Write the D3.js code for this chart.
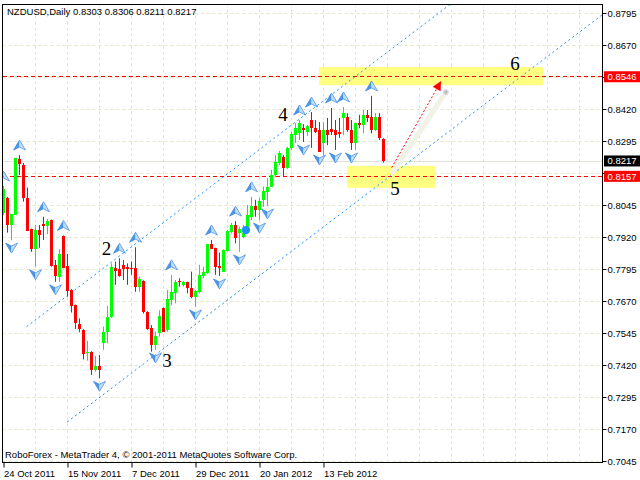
<!DOCTYPE html>
<html><head><meta charset="utf-8">
<script src="https://cdn.jsdelivr.net/npm/d3@7"></script>
<style>
body{margin:0;background:#fff;}
svg{display:block;font-family:"Liberation Sans",Arial,sans-serif;}
</style>
</head><body>
<svg id="c" width="640" height="480"></svg>
<script>
// ---------------- data ----------------
const symbolTitle = "NZDUSD,Daily";
const lastQuote = [0.8303, 0.8306, 0.8211, 0.8217];
const footerText = "RoboForex - MetaTrader 4, \u00a9 2001-2011 MetaQuotes Software Corp.";

const opens = [0.8014,0.8074,0.7967,0.8006,0.8225,0.8201,0.8071,0.7951,0.7873,0.7947,
0.7971,0.7963,0.7986,0.7811,0.7765,0.7924,0.7808,0.7713,0.7654,0.7582,
0.7557,0.7466,0.7472,0.7400,0.7416,0.7505,0.7550,0.7606,0.7798,0.7794,
0.7811,0.7802,0.7798,0.7798,0.7724,0.7749,0.7628,0.7563,0.7498,0.7546,
0.7643,0.7557,0.7674,0.7700,0.7749,0.7733,0.7743,0.7722,0.7684,0.7706,
0.7768,0.7778,0.7891,0.7876,0.7807,0.7785,0.7866,0.7938,0.7967,0.7934,
0.7921,0.7947,0.7999,0.8041,0.8025,0.8065,0.8097,0.8117,0.8162,0.8209,
0.8234,0.8190,0.8268,0.8318,0.8326,0.8346,0.8330,0.8377,0.8346,0.8338,
0.8286,0.8338,0.8341,0.8338,0.8331,0.8385,0.8390,0.8338,0.8286,0.8364,
0.8358,0.8397,0.8388,0.8338,0.8390,0.8303];
const highs = [0.8119,0.8077,0.8010,0.8229,0.8240,0.8209,0.8113,0.7953,0.7967,0.7967,
0.7999,0.7990,0.7988,0.7830,0.7872,0.7926,0.7854,0.7716,0.7656,0.7602,
0.7560,0.7514,0.7474,0.7455,0.7459,0.7570,0.7651,0.7817,0.7824,0.7837,
0.7830,0.7817,0.7824,0.7880,0.7765,0.7751,0.7630,0.7576,0.7550,0.7634,
0.7645,0.7713,0.7772,0.7752,0.7759,0.7748,0.7745,0.7785,0.7713,0.7811,
0.7804,0.7893,0.7908,0.7878,0.7859,0.7872,0.7947,0.7975,0.7982,0.7960,
0.7967,0.8045,0.8077,0.8065,0.8072,0.8117,0.8150,0.8182,0.8240,0.8256,
0.8240,0.8272,0.8331,0.8365,0.8377,0.8361,0.8358,0.8408,0.8377,0.8369,
0.8369,0.8385,0.8424,0.8377,0.8385,0.8428,0.8403,0.8377,0.8367,0.8397,
0.8416,0.8416,0.8471,0.8404,0.8404,0.8306];
const lows = [0.8006,0.7937,0.7908,0.8006,0.8162,0.8058,0.7945,0.7862,0.7804,0.7878,
0.7908,0.7931,0.7804,0.7745,0.7745,0.7798,0.7687,0.7625,0.7561,0.7548,
0.7442,0.7437,0.7381,0.7394,0.7368,0.7479,0.7505,0.7604,0.7733,0.7765,
0.7752,0.7733,0.7772,0.7706,0.7706,0.7621,0.7557,0.7472,0.7479,0.7531,
0.7550,0.7550,0.7654,0.7661,0.7726,0.7726,0.7700,0.7681,0.7647,0.7700,
0.7759,0.7776,0.7873,0.7772,0.7768,0.7783,0.7862,0.7934,0.7895,0.7862,
0.7915,0.7941,0.7986,0.7999,0.7986,0.8038,0.8041,0.8115,0.8154,0.8201,
0.8156,0.8186,0.8260,0.8287,0.8299,0.8291,0.8314,0.8268,0.8326,0.8252,
0.8240,0.8279,0.8318,0.8260,0.8307,0.8318,0.8331,0.8260,0.8260,0.8345,
0.8325,0.8369,0.8325,0.8334,0.8299,0.8211];
const closes = [0.8107,0.7967,0.8010,0.8227,0.8205,0.8074,0.7945,0.7873,0.7947,0.7928,
0.7963,0.7982,0.7808,0.7768,0.7854,0.7798,0.7710,0.7652,0.7585,0.7561,
0.7463,0.7472,0.7400,0.7416,0.7400,0.7550,0.7606,0.7802,0.7788,0.7768,
0.7794,0.7794,0.7794,0.7724,0.7755,0.7628,0.7560,0.7498,0.7533,0.7611,
0.7550,0.7677,0.7706,0.7745,0.7745,0.7743,0.7722,0.7684,0.7710,0.7772,
0.7785,0.7891,0.7873,0.7802,0.7798,0.7869,0.7943,0.7967,0.7915,0.7950,
0.7937,0.8006,0.8041,0.8025,0.8062,0.8101,0.8117,0.8162,0.8214,0.8248,
0.8188,0.8268,0.8322,0.8346,0.8365,0.8338,0.8354,0.8346,0.8331,0.8253,
0.8338,0.8318,0.8331,0.8318,0.8321,0.8404,0.8338,0.8286,0.8364,0.8358,
0.8397,0.8384,0.8338,0.8390,0.8306,0.8217];

const dateTickIdx = [0, 16, 32, 48, 64, 80];
const dateTickLabels = ["24 Oct 2011","15 Nov 2011","7 Dec 2011","29 Dec 2011","20 Jan 2012","13 Feb 2012"];
const gridBarStep = 8;
const priceTicks = [0.8795,0.8670,0.8545,0.8420,0.8295,0.8170,0.8045,0.7920,0.7795,0.7670,0.7545,0.7420,0.7295,0.7170,0.7045];

const fractalUpIdx = [0, 4, 10, 15, 29, 33, 42, 52, 58, 62, 74, 77, 82, 85, 92];
const fractalDownIdx = [2, 8, 13, 24, 38, 48, 54, 59, 64, 66, 75, 79, 83, 87];

const levelPrices = [0.8546, 0.8157];
const bidPrice = 0.8217;
const channelUpper = [[5.8, 0.7570], [110, 0.8809]];
const channelLower = [[15.9, 0.7197], [150, 0.8792]];
const zoneBars = [[78.9, 134.9], [85.9, 107.9]];
const zonePrices = [[0.8584, 0.8513], [0.8198, 0.8112]];
const arrowLine = [[97.05, 0.8191], [109.4, 0.8529]];
const arrowBand = [[97.4, 0.8174], [110.6, 0.8486]];
const waveText = ["2", "3", "4", "5", "6"];
const waveBar = [25.75, 40.9, 69.9, 97.9, 127.9];
const wavePrice = [0.7877, 0.7438, 0.8400, 0.8111, 0.8599];
const markerDot = [60.6, 0.7947];

// ---------------- drawing ----------------
const W = 640, H = 480;
const P = {left: 2.5, top: 4.5, right: 602.5, bottom: 462.5};
const x = d3.scaleLinear().domain([0, 1]).range([3.5, 7.5]);
const y = d3.scaleLinear().domain([0.7045, 0.8795]).range([461, 13]);
const BULL = "#00ff00", BEAR = "#ff0000";
const GRID = "#e4e4c8";
const FONT = "'Liberation Sans', Arial, sans-serif";

const svg = d3.select("#c");
svg.append("rect").attr("width", W).attr("height", H).attr("fill", "#fff");
svg.append("defs").append("clipPath").attr("id", "clip")
  .append("rect").attr("x", P.left + 0.5).attr("y", P.top + 0.5)
  .attr("width", P.right - P.left - 1).attr("height", P.bottom - P.top - 1);
const g = svg.append("g").attr("clip-path", "url(#clip)");

// grid (horizontal via axis generator)
const hGrid = g.append("g").attr("transform", `translate(${P.left},0)`)
  .call(d3.axisLeft(y).tickValues(priceTicks).tickSize(-(P.right - P.left)).tickFormat(""));
hGrid.select(".domain").remove();
hGrid.selectAll("line").attr("stroke", GRID).attr("stroke-dasharray", "3,3");

const vTicks = d3.range(gridBarStep, 150, gridBarStep);
const vGrid = g.append("g").attr("transform", `translate(0,${P.bottom})`)
  .call(d3.axisBottom(x).tickValues(vTicks).tickSize(-(P.bottom - P.top)).tickFormat(""));
vGrid.select(".domain").remove();
vGrid.selectAll("line").attr("stroke", GRID).attr("stroke-dasharray", "3,3");
vGrid.selectAll(".tick").attr("transform", d => `translate(${x(d)},0)`);

// yellow zones
zoneBars.forEach((b, k) => {
  g.append("rect")
    .attr("x", x(b[0])).attr("width", x(b[1]) - x(b[0]))
    .attr("y", y(zonePrices[k][0])).attr("height", y(zonePrices[k][1]) - y(zonePrices[k][0]))
    .attr("fill", "#ffff80");
});

// bid line
g.append("line").attr("x1", P.left).attr("x2", P.right)
  .attr("y1", Math.round(y(bidPrice)) + 0.5).attr("y2", Math.round(y(bidPrice)) + 0.5)
  .attr("stroke", "#e2e2d6").attr("stroke-width", 1);

// level lines
levelPrices.forEach(p => {
  const yy = Math.floor(y(p)) + 0.5;
  g.append("line").attr("x1", P.left).attr("x2", P.right).attr("y1", yy).attr("y2", yy)
    .attr("stroke", "#ff0000").attr("stroke-width", 1).attr("stroke-dasharray", "4,3")
    .attr("shape-rendering", "crispEdges");
});

// channel lines (rays)
function ray(pts) {
  const [a, b] = pts;
  const slope = (b[1] - a[1]) / (b[0] - a[0]);
  const endIdx = 160;
  return [[x(a[0]), y(a[1])], [x(endIdx), y(a[1] + slope * (endIdx - a[0]))]];
}
[channelUpper, channelLower].forEach(pts => {
  const r = ray(pts);
  g.append("line").attr("x1", r[0][0]).attr("y1", r[0][1]).attr("x2", r[1][0]).attr("y2", r[1][1])
    .attr("stroke", "#1e90ff").attr("stroke-width", 1).attr("stroke-dasharray", "2,3");
});

// arrow band + red arrow
g.append("line")
  .attr("x1", x(arrowBand[0][0])).attr("y1", y(arrowBand[0][1]))
  .attr("x2", x(arrowBand[1][0])).attr("y2", y(arrowBand[1][1]))
  .attr("stroke", "#f1f1e6").attr("stroke-width", 5).attr("stroke-linecap", "round");
g.append("circle").attr("cx", x(arrowBand[1][0])).attr("cy", y(arrowBand[1][1])).attr("r", 2.3)
  .attr("fill", "#a8cca8").attr("stroke", "#e6cdef").attr("stroke-width", 1.2);
{
  const x0 = x(arrowLine[0][0]), y0 = y(arrowLine[0][1]);
  const x1 = x(arrowLine[1][0]), y1 = y(arrowLine[1][1]);
  const ang = Math.atan2(y1 - y0, x1 - x0);
  const L = 9, Wd = 4.5;
  const bx = x1 - L * Math.cos(ang), by = y1 - L * Math.sin(ang);
  g.append("line").attr("x1", x0).attr("y1", y0).attr("x2", bx).attr("y2", by)
    .attr("stroke", "#ff0000").attr("stroke-dasharray", "2,2");
  const px = -Math.sin(ang), py = Math.cos(ang);
  g.append("path")
    .attr("d", `M${x1},${y1}L${bx + px * Wd},${by + py * Wd}L${bx - px * Wd},${by - py * Wd}Z`)
    .attr("fill", "#ff0000");
}

// candles
const idx = d3.range(opens.length);
const cg = g.append("g");
cg.selectAll("line.wick").data(idx).join("line")
  .attr("x1", i => x(i)).attr("x2", i => x(i))
  .attr("y1", i => y(highs[i])).attr("y2", i => y(lows[i]))
  .attr("stroke", i => closes[i] >= opens[i] ? BULL : BEAR).attr("stroke-width", 1);
cg.selectAll("rect.body").data(idx).join("rect")
  .attr("x", i => x(i) - 1.5).attr("width", 3)
  .attr("y", i => Math.min(y(opens[i]), y(closes[i])))
  .attr("height", i => Math.max(1, Math.abs(y(opens[i]) - y(closes[i]))))
  .attr("fill", i => closes[i] >= opens[i] ? BULL : BEAR)
  .attr("shape-rendering", "crispEdges");

// blue marker dot
g.append("circle").attr("cx", x(markerDot[0])).attr("cy", y(markerDot[1])).attr("r", 4.2)
  .attr("fill", "#1e90ff");

// fractals
function drawFractal(cx, cy, up) {
  const s = up ? 1 : -1;
  const fg = g.append("g").attr("transform", `translate(${cx},${cy}) scale(1,${s})`);
  fg.append("path").attr("d", "M0,-5L-6,5L0,2Z").attr("fill", "#4a95e8");
  fg.append("path").attr("d", "M0,-5L6,5L0,2Z").attr("fill", "#c2ddfb");
  fg.append("path").attr("d", "M0,-5L6,5L0,2L-6,5Z").attr("fill", "none")
    .attr("stroke", "#3a87dd").attr("stroke-width", 0.7);
}
fractalUpIdx.forEach(i => drawFractal(x(i), y(highs[i]) - 10, true));
fractalDownIdx.forEach(i => drawFractal(x(i), y(lows[i]) + 8, false));

// wave labels
waveText.forEach((t, k) => {
  g.append("text").attr("x", x(waveBar[k])).attr("y", y(wavePrice[k]) + 6.5)
    .attr("text-anchor", "middle").attr("font-family", "'Liberation Serif','Times New Roman',serif")
    .attr("font-size", 19).attr("fill", "#000").text(t);
});

// title + footer
g.append("text").attr("x", 7).attr("y", 14.5).attr("font-size", 9.5).attr("font-family", FONT)
  .attr("fill", "#000").text(symbolTitle + "  " + lastQuote.map(d3.format(".4f")).join(" "));
g.append("text").attr("x", 5).attr("y", 458).attr("font-size", 9.5).attr("font-family", FONT)
  .attr("fill", "#000").text(footerText);

// frame
svg.append("rect").attr("x", P.left).attr("y", P.top)
  .attr("width", P.right - P.left).attr("height", P.bottom - P.top)
  .attr("fill", "none").attr("stroke", "#000").attr("stroke-width", 1);

// right axis (labels hidden where a price box sits on top of them)
const boxPrices = [levelPrices[0], bidPrice, levelPrices[1]];
const covered = p => boxPrices.some(b => Math.abs(y(b) - y(p)) < 11);
const ya = svg.append("g").attr("transform", `translate(${P.right},0)`)
  .call(d3.axisRight(y).tickValues(priceTicks)
    .tickFormat(p => covered(p) ? "" : d3.format(".4f")(p)).tickSize(4).tickPadding(1));
ya.select(".domain").remove();
ya.selectAll("line").attr("stroke", "#000");
ya.selectAll("text").attr("font-size", 9.5).attr("font-family", FONT).attr("fill", "#000");

// bottom axis
const xa = svg.append("g").attr("transform", `translate(0,${P.bottom})`)
  .call(d3.axisBottom(x).tickValues(dateTickIdx).tickFormat((d, k) => dateTickLabels[k]).tickSize(5).tickPadding(3));
xa.select(".domain").remove();
xa.selectAll("line").attr("stroke", "#000");
xa.selectAll("text").attr("font-size", 9.5).attr("font-family", FONT).attr("fill", "#000")
  .attr("text-anchor", "start").attr("x", 0);

// price label boxes
function priceBox(p, fill) {
  const yy = y(p);
  svg.append("rect").attr("x", 604).attr("y", yy - 5.5).attr("width", 36).attr("height", 11).attr("fill", fill);
  svg.append("text").attr("x", 607.5).attr("y", yy + 3.5).attr("font-size", 9.5).attr("font-family", FONT)
    .attr("fill", "#fff").text(d3.format(".4f")(p));
}
priceBox(levelPrices[0], "#ff0000");
priceBox(bidPrice, "#000000");
priceBox(levelPrices[1], "#ff0000");
</script>
</body></html>
